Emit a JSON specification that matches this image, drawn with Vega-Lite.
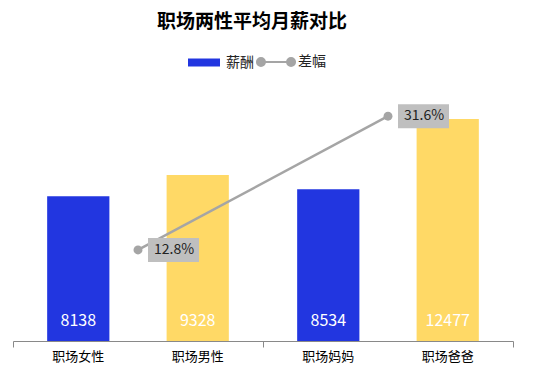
{
  "$schema": "https://vega.github.io/schema/vega-lite/v6.json",
  "width": 500,
  "height": 249,
  "padding": {"left": 12, "top": 13, "right": 21, "bottom": 5},
  "background": "white",
  "config": {"view": {"stroke": null}, "font": "Noto Sans CJK SC"},
  "title": {"text": "职场两性平均月薪对比", "fontSize": 19, "fontWeight": "bold", "color": "#000000", "font": "Noto Sans CJK SC", "anchor": "middle", "offset": 23, "dx": -11},
  "datasets": {
    "bars": [
      {"组": "A", "位": "1", "类别": "职场女性", "性别": "女", "薪酬": 8138},
      {"组": "A", "位": "2", "类别": "职场男性", "性别": "男", "薪酬": 9328},
      {"组": "B", "位": "1", "类别": "职场妈妈", "性别": "女", "薪酬": 8534},
      {"组": "B", "位": "2", "类别": "职场爸爸", "性别": "男", "薪酬": 12477}
    ],
    "gap": [
      {"组": "A", "系列": "差幅", "差幅": 0.128},
      {"组": "B", "系列": "差幅", "差幅": 0.316}
    ]
  },
  "encoding": {
    "x": {"field": "组", "type": "nominal", "scale": {"domain": ["A", "B"], "paddingInner": 0, "paddingOuter": 0},
      "axis": {"labels": false, "title": null, "tickBand": "extent", "domainColor": "#898989", "tickColor": "#898989", "tickSize": 6, "domainWidth": 1}}
  },
  "layer": [
    {
      "data": {"name": "bars"},
      "mark": {"type": "bar"},
      "encoding": {
        "xOffset": {"field": "位", "type": "nominal", "scale": {"domain": ["1", "2"], "paddingInner": 0.479, "paddingOuter": 0.286}},
        "y": {"field": "薪酬", "type": "quantitative", "scale": {"domain": [0, 14000]}, "axis": null},
        "fill": {"field": "性别", "type": "nominal", "scale": {"domain": ["女", "男"], "range": ["#2236e0", "#ffd966"]}, "legend": null}
      }
    },
    {
      "data": {"name": "bars"},
      "mark": {"type": "text", "color": "#ffffff", "fontSize": 16, "baseline": "bottom", "dy": -12},
      "encoding": {
        "xOffset": {"field": "位", "type": "nominal"},
        "y": {"datum": 0, "type": "quantitative", "scale": {"domain": [0, 14000]}, "axis": null},
        "text": {"field": "薪酬", "type": "quantitative"}
      }
    },
    {
      "data": {"name": "bars"},
      "mark": {"type": "text", "color": "#000000", "fontSize": 13, "baseline": "top", "dy": 10},
      "encoding": {
        "xOffset": {"field": "位", "type": "nominal"},
        "y": {"datum": 0, "type": "quantitative", "scale": {"domain": [0, 14000]}, "axis": null},
        "text": {"field": "类别", "type": "nominal"}
      }
    },
    {
      "data": {"name": "gap"},
      "mark": {"type": "line", "strokeWidth": 2.5},
      "encoding": {
        "y": {"field": "差幅", "type": "quantitative", "scale": {"domain": [0, 0.35]}, "axis": null},
        "stroke": {"field": "系列", "type": "nominal", "scale": {"domain": ["薪酬", "差幅"], "range": ["#2236e0", "#a5a5a5"]},
          "legend": {"orient": "none", "legendX": 184, "legendY": -37, "direction": "horizontal", "title": null, "labelFontSize": 14, "labelColor": "#222222", "labelFont": "Noto Sans CJK SC", "labelOffset": 15, "columnPadding": -2, "symbolSize": 1024, "symbolType": "M-1,-0.25H1V0.25H-1Z",
            "encode": {"symbols": {"update": {
              "shape": {"signal": "datum.value === '差幅' ? 'M-1.19,0a0.25,0.25 0 1,0 0.5,0a0.25,0.25 0 1,0 -0.5,0Z M-0.69,0H0.69 M0.69,0a0.25,0.25 0 1,0 0.5,0a0.25,0.25 0 1,0 -0.5,0Z' : 'M-1,-0.25H1V0.25H-1Z'"},
              "fill": {"signal": "datum.value === '差幅' ? '#a5a5a5' : '#2236e0'"},
              "stroke": {"signal": "datum.value === '差幅' ? '#a5a5a5' : '#2236e0'"},
              "strokeWidth": {"signal": "datum.value === '差幅' ? 2 : 0"},
              "opacity": {"value": 1}
            }}}}
        }
      }
    },
    {
      "data": {"name": "gap"},
      "mark": {"type": "point", "filled": true, "size": 80, "color": "#a5a5a5", "opacity": 1},
      "encoding": {
        "y": {"field": "差幅", "type": "quantitative", "scale": {"domain": [0, 0.35]}, "axis": null}
      }
    },
    {
      "data": {"name": "gap"},
      "mark": {"type": "point", "filled": true, "size": 2500, "color": "#bfbfbf", "opacity": 1, "shape": "M0.4,-0.48H2.44V0.48H0.4Z"},
      "encoding": {
        "y": {"field": "差幅", "type": "quantitative", "scale": {"domain": [0, 0.35]}, "axis": null}
      }
    },
    {
      "data": {"name": "gap"},
      "mark": {"type": "text", "color": "#222222", "fontSize": 14, "align": "center", "baseline": "middle", "dx": 36},
      "encoding": {
        "y": {"field": "差幅", "type": "quantitative", "scale": {"domain": [0, 0.35]}, "axis": null},
        "text": {"field": "差幅", "type": "quantitative", "format": ".1%"}
      }
    }
  ],
  "resolve": {"scale": {"y": "independent"}}
}
